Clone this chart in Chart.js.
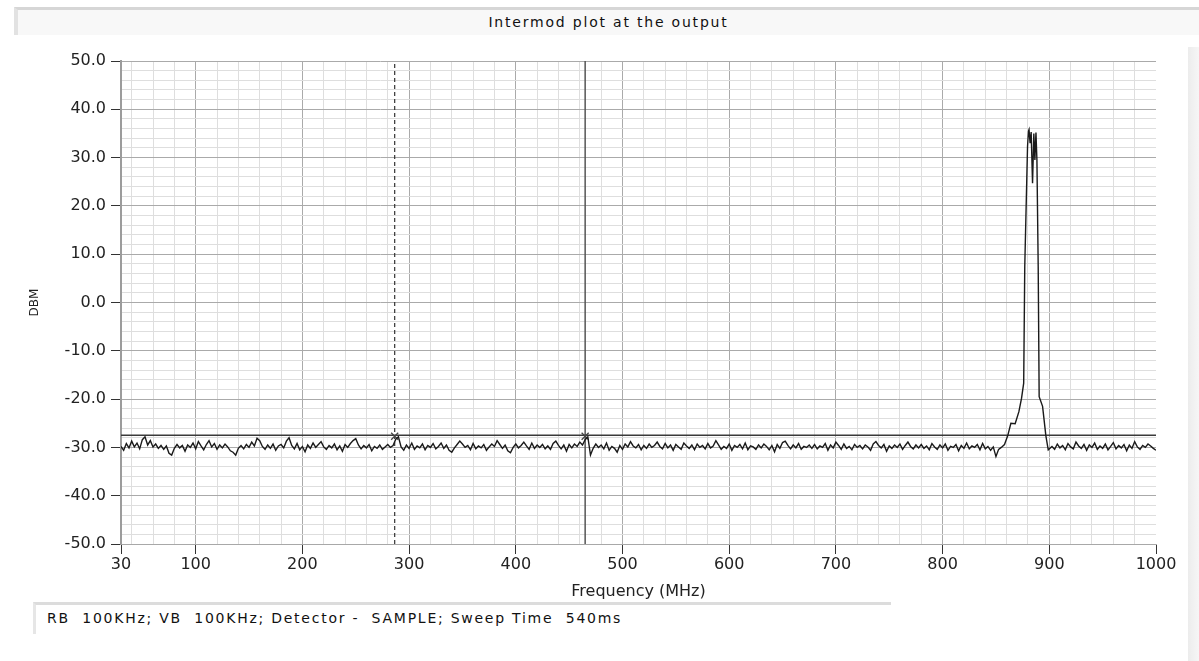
<!DOCTYPE html>
<html>
<head>
<meta charset="utf-8">
<title>Intermod plot at the output</title>
<script src="https://cdn.jsdelivr.net/npm/chart.js@4.4.0/dist/chart.umd.min.js"></script>
<style>
    body { margin: 0; background: #fff; font-family: "DejaVu Sans", sans-serif; }
    #wrap { position: relative; width: 1199px; height: 661px; overflow: hidden; }
    #titleBar {
        position: absolute; left: 14px; top: 7px; width: 1185px; height: 28px;
        background: #f8f8f8; border-top: 3px solid #d6d6d6; border-left: 4px solid #e2e2e2;
        box-sizing: border-box; text-align: center; font-size: 14px; letter-spacing: 1.8px;
        line-height: 24px; color: #111;
    }
    #caption {
        position: absolute; left: 33px; top: 602px; width: 858px; height: 32px;
        background: #fff; border-top: 3px solid #dcdcdc; border-left: 3px solid #e6e6e6;
        box-sizing: border-box; font-size: 14px; letter-spacing: 1.75px; line-height: 26px;
        color: #111; padding-left: 11px; white-space: pre;
    }
    #rightBar {
        position: absolute; left: 1188px; top: 47px; width: 11px; height: 614px;
        background: linear-gradient(to right, #ececec, #f6f6f6);
    }
    canvas { position: absolute; left: 0; top: 0; }
</style>
</head>
<body>
<div id="wrap">
    <div id="titleBar">Intermod plot at the output</div>
    <div id="rightBar"></div>
    <div id="caption">RB  100KHz; VB  100KHz; Detector -  SAMPLE; Sweep Time  540ms</div>
    <canvas id="spectrum" width="1199" height="661"></canvas>
</div>
<script>
// noise floor below the carrier, one reading every 2.5 MHz from 30 MHz
const lowStartMHz = 30;
const stepMHz = 2.5;
const lowLevels = [
    -29.8, -30.6, -29.2, -30.1, -28.7, -29.9, -29.1, -30.3, -28.4, -27.8, -29.5, -28.6, -29.9, -29.3, -30.2, -29.6, -30.4, -29.7, -31.2, -31.6,
    -30.2, -29.4, -30.1, -29.6, -30.8, -29.5, -30.0, -29.1, -30.3, -28.8, -29.7, -30.5, -29.4, -28.6, -29.9, -29.2, -30.4, -29.5, -30.1, -29.3,
    -29.9, -30.7, -31.0, -31.6, -30.2, -29.6, -30.3, -29.4, -30.0, -28.9, -29.7, -28.1, -28.6, -29.8, -30.4, -29.5, -30.2, -29.3, -30.6, -29.7,
    -29.4, -30.1, -28.7, -28.0, -29.6, -30.3, -29.2, -30.5, -29.8, -30.9, -29.5, -30.2, -29.1, -30.0, -29.4, -28.8, -29.9, -30.4, -29.6, -30.1,
    -29.3, -30.5, -29.7, -30.8, -29.4, -30.0, -29.2, -28.6, -28.2, -29.5, -30.3, -29.6, -30.1, -29.4, -30.7, -29.8, -30.2, -29.5, -30.4, -29.9,
    -29.4, -30.0, -29.6, -28.3, -27.8, -29.9, -30.6, -29.5, -30.2, -29.1, -30.4, -29.7, -30.1, -29.3, -30.5, -29.6, -30.0, -29.2, -30.3, -29.8,
    -29.1, -30.2, -29.5, -30.6, -31.0, -30.1, -29.4, -28.7, -29.3, -30.0, -29.6, -30.5, -29.2, -30.3, -29.7, -30.1, -29.4, -30.6, -29.9, -29.3,
    -29.8, -28.6, -29.4, -30.2, -29.5, -30.7, -31.1, -30.0, -29.3, -30.1, -29.6, -28.9, -29.7, -30.4, -29.1, -30.2, -29.5, -30.0, -29.4, -30.3,
    -29.7, -30.4, -29.2, -28.7, -29.6, -30.3, -29.5, -30.8, -29.4, -30.1, -29.3, -29.8, -28.9, -29.5, -28.4, -27.8, -31.6, -30.2, -29.3, -30.0,
    -29.5, -30.3, -29.1, -30.6, -29.8, -30.2, -31.0, -29.6, -30.4, -29.3, -29.9, -28.8, -29.7, -30.1, -29.4, -30.5, -29.6, -30.2, -29.3, -30.0,
    -29.6, -28.9, -29.8, -30.3, -29.2, -30.1, -29.5, -30.6, -29.4, -29.9, -30.4, -29.1, -29.7, -30.2, -29.5, -30.5, -29.3, -30.0, -29.6, -30.3,
    -29.2, -30.1, -29.7, -28.6, -29.5, -30.4, -29.8, -30.2, -29.3, -30.6, -29.6, -30.0, -29.4, -30.3, -29.1, -30.5, -29.7, -29.9, -30.4, -29.5,
    -30.1, -29.3, -29.8, -30.5, -29.6, -30.9, -29.4, -30.2, -29.0, -28.7, -29.6, -30.3, -29.5, -30.1, -29.2, -30.4, -29.8, -30.0, -29.5, -30.2,
    -29.4, -30.3, -29.7, -30.0, -29.2, -30.6, -29.5, -30.1, -28.9, -29.6, -30.4, -29.3, -30.2, -29.8, -30.5, -29.4, -30.0, -29.6, -30.3, -29.5,
    -29.9, -30.6, -29.3, -28.8, -29.6, -30.1, -29.4, -30.8, -29.7, -30.2, -29.5, -30.0, -29.3, -30.4, -29.6, -28.9, -29.8, -30.3, -29.5, -30.1,
    -29.4, -30.2, -29.7, -30.5, -29.2, -29.9, -30.4, -29.5, -30.1, -29.3, -30.6, -29.8, -30.0, -29.4, -30.7, -29.6, -30.2, -29.1, -30.3, -29.7,
    -30.0, -29.4, -30.5, -29.2, -30.3, -29.8, -30.6, -29.9, -31.9, -30.4
];

// carrier around 880 MHz
const peakFreqs = [855, 858, 861, 864, 868, 871.5, 874, 876, 877, 879.6, 880.5, 881, 882, 883, 884.3,
    885.5, 886.5, 887.5, 888.4, 889.6, 890.5, 893.7, 896.8, 899];
const peakLevels = [-30.0, -29.4, -27.6, -25.0, -25.1, -22.6, -19.8, -16.7, 7.4, 32.3, 35.5, 35.8, 33.0, 35.3, 24.7,
    35.0, 29.5, 35.2, 29.5, 7.4, -19.5, -21.5, -27.6, -30.5];

// noise above the carrier, from 902.5 MHz
const highStartMHz = 902.5;
const highLevels = [
    -29.8, -30.4, -29.3, -30.1, -29.6, -30.5, -29.2, -29.9, -30.3, -28.9, -29.7, -30.2, -29.4, -30.6, -29.5, -30.0, -29.1, -30.4, -29.7, -30.2,
    -29.3, -30.5, -29.8, -29.0, -30.3, -29.6, -30.1, -29.4, -30.7, -29.5, -30.2, -28.8, -29.9, -30.4, -29.6, -30.0, -29.3, -29.7, -30.2, -30.6
];

// markers
const markerDashedMHz = 286.5;
const markerSolidMHz = 465;
const markerLevel = -27.7;
const thresholdLevel = -27.5;

// axes
const xMin = 30, xMax = 1000;
const xLabelled = [30, 100, 200, 300, 400, 500, 600, 700, 800, 900, 1000];
const xMinorStep = 20;
const yMin = -50, yMax = 50;
const yMajorStep = 10, yMinorStep = 2;

const trace = [];
lowLevels.forEach((v, i) => trace.push({ x: lowStartMHz + i * stepMHz, y: v }));
peakFreqs.forEach((f, i) => trace.push({ x: f, y: peakLevels[i] }));
highLevels.forEach((v, i) => trace.push({ x: highStartMHz + i * stepMHz, y: v }));

const xTicks = [xMin];
for (let v = 40; v <= xMax; v += xMinorStep) xTicks.push(v);
const yTicks = [];
for (let v = yMin; v <= yMax; v += yMinorStep) yTicks.push(v);

const tickFont = { family: "DejaVu Sans", size: 16 };

const myChart = new Chart(document.getElementById("spectrum"), {
    type: "line",
    data: {
        datasets: [
            {
                data: trace,
                borderColor: "#1a1a1a",
                borderWidth: 1.4,
                pointRadius: 0,
                tension: 0,
            },
            {
                type: "scatter",
                data: [
                    { x: markerDashedMHz, y: markerLevel },
                    { x: markerSolidMHz, y: markerLevel },
                ],
                pointStyle: "crossRot",
                pointRadius: 5,
                borderColor: "#444",
                borderWidth: 1.3,
            },
            {
                data: [{ x: xMin, y: thresholdLevel }, { x: xMax, y: thresholdLevel }],
                borderColor: "#3a3a3a",
                borderWidth: 1.5,
                pointRadius: 0,
            },
            {
                data: [{ x: markerDashedMHz, y: yMin }, { x: markerDashedMHz, y: yMax }],
                borderColor: "#333",
                borderWidth: 1.2,
                borderDash: [4, 3],
                pointRadius: 0,
            },
            {
                data: [{ x: markerSolidMHz, y: yMin }, { x: markerSolidMHz, y: yMax }],
                borderColor: "#555",
                borderWidth: 1.5,
                pointRadius: 0,
            },
        ],
    },
    options: {
        responsive: false,
        animation: false,
        layout: { padding: { left: 0, top: 61, right: 43, bottom: 60 } },
        plugins: { legend: { display: false }, tooltip: { enabled: false } },
        scales: {
            x: {
                type: "linear",
                min: xMin,
                max: xMax,
                afterBuildTicks: (scale) => { scale.ticks = xTicks.map((v) => ({ value: v })); },
                afterFit: (scale) => { scale.height = 57; },
                ticks: {
                    autoSkip: false,
                    maxRotation: 0,
                    padding: 1,
                    color: "#222",
                    font: tickFont,
                    callback: (v) => (xLabelled.includes(v) ? String(v) : ""),
                },
                grid: {
                    color: (ctx) => {
                        const v = ctx.tick.value;
                        if (v === xMax || v === xMin) return "rgba(0,0,0,0)";
                        return v % 100 === 0 ? "#aaaaaa" : "#dedede";
                    },
                    tickColor: (ctx) => (xLabelled.includes(ctx.tick.value) ? "#333" : "rgba(0,0,0,0)"),
                    tickLength: 10,
                },
                border: { color: "#a8a8a8", width: 1 },
                title: {
                    display: true,
                    text: "Frequency (MHz)",
                    color: "#222",
                    font: { family: "DejaVu Sans", size: 16 },
                    padding: { top: 0, bottom: 0 },
                },
            },
            y: {
                min: yMin,
                max: yMax,
                afterBuildTicks: (scale) => { scale.ticks = yTicks.map((v) => ({ value: v })); },
                afterFit: (scale) => { scale.width = 121; },
                ticks: {
                    autoSkip: false,
                    padding: 5,
                    color: "#222",
                    font: tickFont,
                    callback: (v) => (v % yMajorStep === 0 ? (v === 0 ? "0.0" : v.toFixed(1)) : ""),
                },
                grid: {
                    color: (ctx) => (ctx.tick.value % yMajorStep === 0 ? "#aaaaaa" : "#dedede"),
                    tickColor: (ctx) => (ctx.tick.value % yMajorStep === 0 ? "#333" : "rgba(0,0,0,0)"),
                    tickLength: 10,
                },
                border: { color: "#9c9c9c", width: 2 },
                title: {
                    display: true,
                    text: "DBM",
                    color: "#222",
                    font: { family: "DejaVu Sans", size: 12 },
                    padding: { top: 28, bottom: 0 },
                },
            },
        },
    },
});
</script>
</body>
</html>
